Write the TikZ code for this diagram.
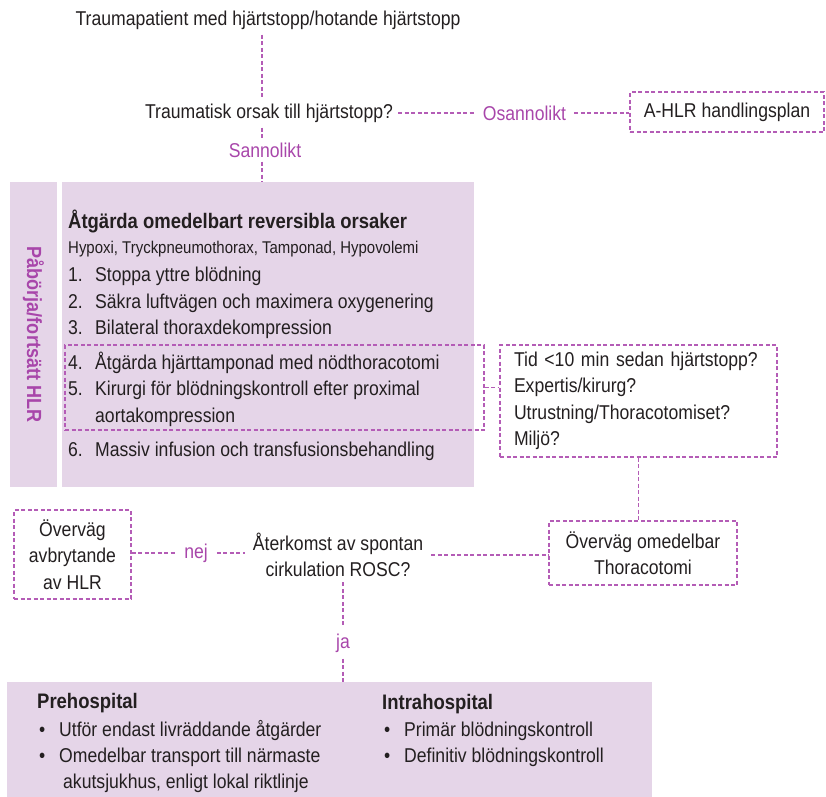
\documentclass[tikz,border=0pt]{standalone}
\usepackage{fontspec}
\setmainfont{Liberation Sans}[FakeStretch=0.88]
\usepackage{xcolor}
\usepackage{tikz}
\usetikzlibrary{positioning, calc}
\definecolor{hlrline}{HTML}{B45CB6}
\definecolor{hlrfill}{HTML}{E5D5E8}
\definecolor{hlrpurple}{HTML}{A846AA}
\definecolor{inkdark}{HTML}{231F20}
\tikzset{
  flowtext/.style={
    font=\fontsize{20}{26.5}\selectfont, text=inkdark,
    align=center, inner sep=5pt
  },
  answerlabel/.style={
    font=\fontsize{20}{26.5}\selectfont, text=hlrpurple,
    inner xsep=8pt, inner ysep=5pt
  },
  dashbox/.style={
    draw=hlrline, line width=1.1pt, dash pattern=on 4pt off 2.5pt,
    font=\fontsize{20}{26.5}\selectfont, text=inkdark, align=center
  },
  fillblock/.style={
    fill=hlrfill, draw=none, inner sep=0pt
  },
  listline/.style={
    anchor=base west, inner sep=0pt,
    font=\fontsize{20}{26.5}\selectfont, text=inkdark
  },
  headline/.style={
    anchor=base west, inner sep=0pt,
    font=\fontsize{21}{26}\selectfont\bfseries, text=inkdark
  },
  dashlink/.style={
    draw=hlrline, line width=1.1pt, dash pattern=on 4pt off 2.5pt
  },
}
\newcommand{\itemnum}[1]{\makebox[27pt][l]{#1}}
\newcommand{\itembul}[1]{\makebox[22pt][l]{\hspace{2pt}#1}}

\begin{document}
\begin{tikzpicture}[x=1pt, y=-1pt]
  \useasboundingbox (0,0) rectangle (826,796);

  % Start
  \node[flowtext] (start) at (268,20) {Traumapatient med hjärtstopp/hotande hjärtstopp};
  \node[flowtext] (cause) at (269,113) {Traumatisk orsak till hjärtstopp?};
  \node[answerlabel] (unlikely) at (524.5,113) {Osannolikt};
  \node[dashbox, minimum width=194pt, minimum height=40pt] (ahlr) at (727,112) {A-HLR handlingsplan};
  \node[answerlabel, inner ysep=4pt] (likely) at (265,150) {Sannolikt};

  % Reversible causes
  \node[fillblock, minimum width=47pt, minimum height=305pt] (hlrstrip) at (33.5,334.5) {};
  \node[rotate=-90, font=\fontsize{20.5}{24}\selectfont\bfseries, text=hlrpurple, inner sep=0pt]
    (hlrtext) at (hlrstrip.center) {Påbörja/fortsätt HLR};
  \node[fillblock, minimum width=412pt, minimum height=305pt] (causes) at (268,334.5) {};
  \node[headline] (causehead) at (68,228) {Åtgärda omedelbart reversibla orsaker};
  \node[listline, font=\fontsize{17}{20}\selectfont] (causelist) at (68,253)
    {Hypoxi, Tryckpneumothorax, Tamponad, Hypovolemi};
  \node[listline] (step1) at (68,281) {\itemnum{1.}Stoppa yttre blödning};
  \node[listline] (step2) at (68,308) {\itemnum{2.}Säkra luftvägen och maximera oxygenering};
  \node[listline] (step3) at (68,334) {\itemnum{3.}Bilateral thoraxdekompression};
  \node[listline] (step4) at (68,369) {\itemnum{4.}Åtgärda hjärttamponad med nödthoracotomi};
  \node[listline] (step5) at (68,395) {\itemnum{5.}Kirurgi för blödningskontroll efter proximal};
  \node[listline] (step5b) at (95,422) {aortakompression};
  \node[listline] (step6) at (68,456) {\itemnum{6.}Massiv infusion och transfusionsbehandling};
  \node[dashbox, minimum width=419pt, minimum height=85pt] (surgery) at (274.5,387.5) {};

  % Conditions
  \node[dashbox, align=left, text width=249pt, inner xsep=14pt, minimum height=112pt]
    (conditions) at (638.5,401) {Tid <10 min sedan hjärtstopp?\\Expertis/kirurg?\\Utrustning/Thoracotomiset?\\Miljö?};
  \node[dashbox, minimum width=188pt, minimum height=64pt] (thoraco) at (643,553)
    {Överväg omedelbar\\Thoracotomi};

  % ROSC
  \node[flowtext, inner xsep=8pt] (rosc) at (338,555) {Återkomst av spontan\\cirkulation ROSC?};
  \node[answerlabel, inner xsep=9pt] (no) at (196,553) {nej};
  \node[dashbox, minimum width=117pt, minimum height=89pt] (stopcpr) at (72.5,554.5)
    {Överväg\\avbrytande\\av HLR};
  \node[answerlabel, inner ysep=6pt] (yes) at (343,643) {ja};

  % After ROSC
  \node[fillblock, minimum width=645pt, minimum height=116pt] (after) at (329.5,740) {};
  \node[headline] (prehead) at (37,708) {Prehospital};
  \node[listline] (pre1) at (37,736) {\itembul{•}Utför endast livräddande åtgärder};
  \node[listline] (pre2) at (37,762) {\itembul{•}Omedelbar transport till närmaste};
  \node[listline] (pre2b) at (63,788) {akutsjukhus, enligt lokal riktlinje};
  \node[headline] (inhead) at (382,709) {Intrahospital};
  \node[listline] (in1) at (382,736) {\itembul{•}Primär blödningskontroll};
  \node[listline] (in2) at (382,762) {\itembul{•}Definitiv blödningskontroll};

  % Connectors
  \draw[dashlink] (start.south -| 262,0) -- (cause.north -| 262,0);
  \draw[dashlink] (cause.east) -- (unlikely.west);
  \draw[dashlink] (unlikely.east) -- (ahlr.west |- unlikely.east);
  \draw[dashlink] (cause.south -| 262,0) -- (likely.north -| 262,0);
  \draw[dashlink] (likely.south -| 262,0) -- (causes.north -| 262,0);
  \draw[dashlink] (surgery.east) -- (surgery.east -| conditions.west);
  \draw[dashlink] (conditions.south) -- (conditions.south |- thoraco.north);
  \draw[dashlink] (rosc.east) -- (rosc.east -| thoraco.west);
  \draw[dashlink] (stopcpr.east |- no.west) -- (no.west);
  \draw[dashlink] (no.east) -- (rosc.west |- no.east);
  \draw[dashlink] (yes.north |- rosc.south) -- (yes.north);
  \draw[dashlink] (yes.south) -- (yes.south |- after.north);
\end{tikzpicture}
\end{document}
